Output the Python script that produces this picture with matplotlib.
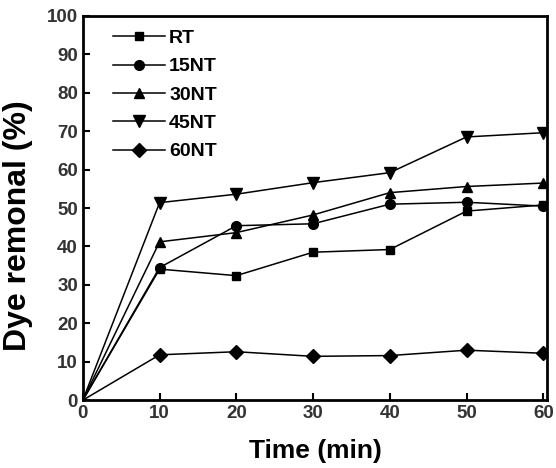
import matplotlib
matplotlib.use("Agg")
import matplotlib.pyplot as plt

# 数据
time = [0, 10, 20, 30, 40, 50, 60]
rt = [0, 34.1, 32.4, 38.5, 39.2, 49.2, 50.8]
nt15 = [0, 34.5, 45.4, 45.9, 51.0, 51.5, 50.5]
nt30 = [0, 41.2, 43.6, 48.2, 54.0, 55.6, 56.5]
nt45 = [0, 51.4, 53.6, 56.6, 59.2, 68.5, 69.6]
nt60 = [0, 11.8, 12.6, 11.4, 11.6, 13.0, 12.2]

labels = ["RT", "15NT", "30NT", "45NT", "60NT"]
series = [rt, nt15, nt30, nt45, nt60]
markers = ["s", "o", "^", "v", "D"]
msizes = [6, 7, 7, 8, 7]

plt.rcParams["font.family"] = ["Liberation Sans", "DejaVu Sans"]
plt.rcParams["font.weight"] = "bold"

fig = plt.figure(figsize=(5.56, 4.68), dpi=100)
ax = fig.add_axes([0.149, 0.145, 0.835, 0.821])

for y, lab, m, ms in zip(series, labels, markers, msizes):
    ax.plot(time, y, color="black", linewidth=1.1, marker=m, markersize=ms,
            markevery=slice(1, None),
            markerfacecolor="black", markeredgecolor="black", label=lab)

ax.set_xlim(0, 60.5)
ax.set_ylim(0, 100)
ax.set_xticks(range(0, 61, 10))
ax.set_yticks(range(0, 101, 10))
ax.tick_params(direction="in", length=5, width=1.5, labelsize=13.5,
               labelcolor="#333333", top=False, right=False)
for lab in ax.get_xticklabels() + ax.get_yticklabels():
    lab.set_fontweight("bold")
for s in ax.spines.values():
    s.set_linewidth(2)

ax.set_xlabel("Time (min)", fontsize=19, fontweight="bold", labelpad=12)
ax.set_ylabel("Dye remonal (%)", fontsize=23, fontweight="bold")
ax.yaxis.set_label_coords(-0.108, 0.455)

leg = ax.legend(loc="upper left", frameon=False, fontsize=14, handlelength=2.7,
                handletextpad=0.2, labelspacing=0.55, borderaxespad=0.3,
                bbox_to_anchor=(0.035, 1.0))
for t in leg.get_texts():
    t.set_fontweight("bold")

fig.savefig("out.png", dpi=100)
